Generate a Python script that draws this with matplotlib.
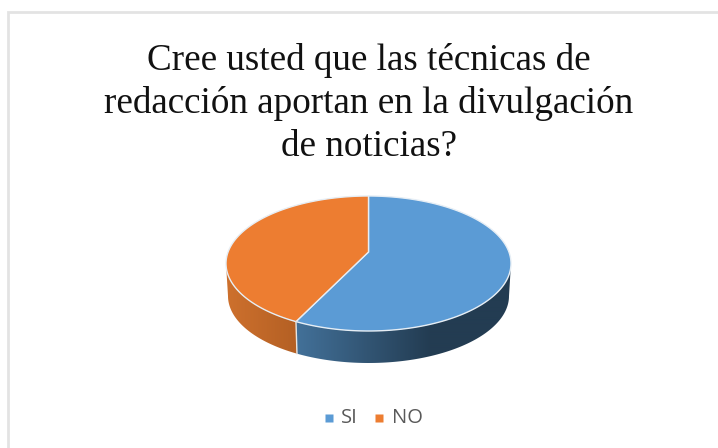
import numpy as np
import matplotlib
matplotlib.use('Agg')
import matplotlib.pyplot as plt
from matplotlib.patches import Polygon

# values
labels = ['SI', 'NO']
shares = [58.5, 41.5]
colours = ['#5b9bd5', '#ed7d31']
title = 'Cree usted que las técnicas de\nredacción aportan en la divulgación\nde noticias?'

W, H = 718, 448
fig = plt.figure(figsize=(W/100, H/100), dpi=100, facecolor='w')
ax = fig.add_axes([0, 0, 1, 1])
ax.axis('off')

# frame of the chart area, open on the right
ax.plot([7.5, 7.5, 718], [448, 12.5, 12.5], color='#e3e3e3', lw=2, solid_joinstyle='miter')

cx, cy, rx, ry = 368.5, 263.5, 142.5, 67.5  # top ellipse
apex = (368.5, 252)
bx, by, brx, bry = 368.5, 296, 140.5, 67  # bottom ellipse

def top_pt(a):
    # a = degrees clockwise from 12 o'clock
    a = np.radians(a)
    return cx + rx*np.sin(a), cy - ry*np.cos(a)

def bot_pt(a):
    a = np.radians(a)
    return bx + brx*np.sin(a), by - bry*np.cos(a)

ends = np.cumsum(shares)/np.sum(shares)*360
starts = np.r_[0, ends[:-1]]

side_stops = [[(298, (66, 112, 152)), (430, (35, 60, 82))],
              [(228, (205, 112, 45)), (296, (180, 96, 36))]]

# rim, only the part of each slice which faces the viewer, gradient clipped to it
for i in range(len(shares)):
    aa = np.linspace(max(starts[i], 90), min(ends[i], 270), 150)
    xt, yt = top_pt(aa)
    xb, yb = bot_pt(aa[::-1])
    (x0, c0), (x1, c1) = side_stops[i]
    xg = np.arange(200, 530)
    grad = np.stack([np.interp(xg, [x0, x1], [c0[k], c1[k]]) for k in range(3)], axis=-1)[None]/255
    im = ax.imshow(grad, extent=[200, 530, 380, 240], aspect='auto', zorder=2, interpolation='bilinear')
    im.set_clip_path(Polygon(np.c_[np.r_[xt, xb], np.r_[yt, yb]], transform=ax.transData))

ax.set_xlim(0, W)
ax.set_ylim(H, 0)

# top face
for i in range(len(shares)):
    aa = np.linspace(starts[i], ends[i], 200)
    xs, ys = top_pt(aa)
    ax.fill(np.r_[apex[0], xs], np.r_[apex[1], ys], facecolor=colours[i],
            edgecolor='#e6eef5', lw=1, zorder=3)

# light line down the rim between the slices
x0, y0 = top_pt(ends[0])
x1, y1 = bot_pt(ends[0])
ax.plot([x0, x1], [y0, y1], color='#e8e4e0', lw=1, zorder=4)

ax.text(369, 103.5, title, ha='center', va='center', family='Liberation Serif', fontsize=26.75,
        color='#111111', linespacing=1.3)

# legend
leg_x = [329, 379]
txt_x = [341, 392]
for i in range(len(labels)):
    ax.plot(leg_x[i], 418, 's', ms=5.8, mfc=colours[i], mec='none')
    ax.text(txt_x[i], 418, labels[i], ha='left', va='center', family='Open Sans', fontsize=14.5,
            color='#595959')

fig.savefig('out.png', dpi=100, facecolor='w')
